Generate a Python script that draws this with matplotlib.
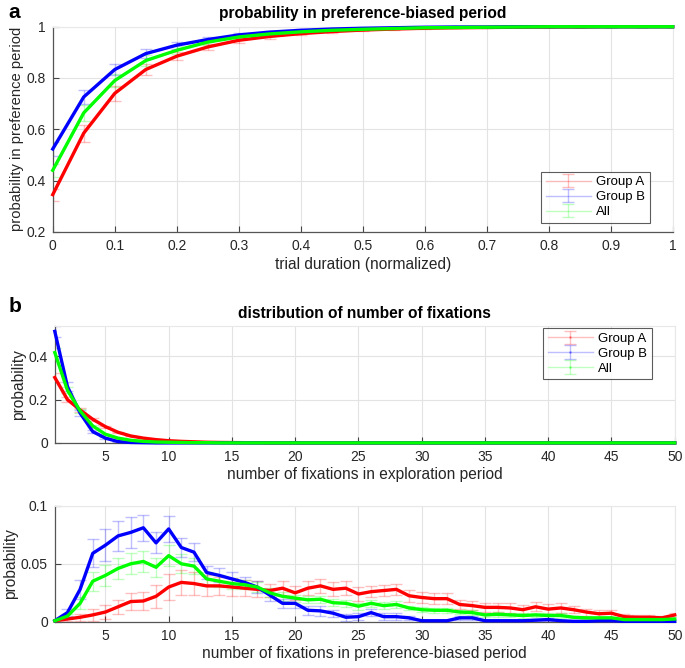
import numpy as np
import matplotlib
matplotlib.use("Agg")
from matplotlib import pyplot as plt

plt.rcParams['font.family'] = ['Liberation Sans', 'DejaVu Sans']
plt.rcParams['font.size'] = 9

# panel a: probability in preference-biased period
t = [0, 0.05, 0.1, 0.15, 0.2, 0.25, 0.3, 0.35, 0.4, 0.45, 0.5,
     0.55, 0.6, 0.65, 0.7, 0.75, 0.8, 0.85, 0.9, 0.95, 1.0]
a_grpA = [0.345, 0.585, 0.74, 0.833, 0.885, 0.921, 0.947, 0.962, 0.973, 0.981, 0.987,
          0.991, 0.994, 0.996, 0.997, 0.998, 0.999, 0.999, 1.0, 1.0, 1.0]
a_grpB = [0.523, 0.726, 0.833, 0.895, 0.928, 0.95, 0.968, 0.979, 0.986, 0.991, 0.994,
          0.996, 0.998, 0.999, 0.999, 1.0, 1.0, 1.0, 1.0, 1.0, 1.0]
a_all = [0.44, 0.664, 0.79, 0.868, 0.908, 0.94, 0.96, 0.972, 0.98, 0.986, 0.99,
         0.993, 0.996, 0.997, 0.998, 0.999, 1.0, 1.0, 1.0, 1.0, 1.0]
a_errA = [0.023, 0.033, 0.03, 0.022, 0.016, 0.012, 0.01, 0.008, 0.006, 0.005, 0.004,
          0.003, 0.003, 0.002, 0.002, 0.001, 0.001, 0.001, 0.0, 0.0, 0.0]
a_errB = [0.026, 0.028, 0.022, 0.018, 0.014, 0.011, 0.008, 0.006, 0.005, 0.004, 0.003,
          0.002, 0.002, 0.001, 0.001, 0.0, 0.0, 0.0, 0.0, 0.0, 0.0]
a_errAll = [0.025, 0.03, 0.025, 0.02, 0.015, 0.011, 0.009, 0.007, 0.005, 0.004, 0.003,
            0.002, 0.002, 0.001, 0.001, 0.001, 0.0, 0.0, 0.0, 0.0, 0.0]

# panel b top: number of fixations in exploration period (1..50)
n = list(range(1, 51))
e_grpA = [0.302, 0.20, 0.152, 0.109, 0.075, 0.049, 0.032, 0.022, 0.015, 0.010,
          0.007, 0.005, 0.003, 0.002, 0.0015, 0.001, 0.001] + [0.0] * 33
e_grpB = [0.515, 0.26, 0.138, 0.052, 0.022, 0.006, 0.002, 0.001] + [0.0] * 42
e_all = [0.417, 0.243, 0.148, 0.078, 0.040, 0.022, 0.012, 0.007, 0.004, 0.003,
         0.002, 0.001, 0.001] + [0.0] * 37
e_errA = [0.02, 0.012, 0.008, 0.006, 0.004, 0.003, 0.002, 0.001] + [0.0] * 42
e_errB = [0.025, 0.02, 0.012, 0.006, 0.003, 0.001] + [0.0] * 44
e_errAll = [0.02, 0.014, 0.009, 0.005, 0.003, 0.002, 0.001] + [0.0] * 43

# panel b bottom: number of fixations in preference-biased period (1..50)
p_grpA = [0.001, 0.0025, 0.004, 0.006, 0.0085, 0.013, 0.0175, 0.018, 0.022, 0.030,
          0.034, 0.033, 0.031, 0.031, 0.030, 0.029, 0.028, 0.027, 0.029, 0.025,
          0.029, 0.031, 0.028, 0.029, 0.024, 0.026, 0.027, 0.028, 0.0225, 0.021,
          0.020, 0.020, 0.015, 0.014, 0.0125, 0.0125, 0.012, 0.0105, 0.013, 0.011,
          0.012, 0.0105, 0.0085, 0.007, 0.0075, 0.0045, 0.004, 0.004, 0.0035, 0.006]
p_grpB = [0.001, 0.008, 0.028, 0.059, 0.066, 0.074, 0.077, 0.081, 0.068, 0.080,
          0.064, 0.060, 0.0425, 0.040, 0.037, 0.034, 0.030, 0.023, 0.016, 0.016,
          0.010, 0.0095, 0.0075, 0.004, 0.0045, 0.008, 0.0045, 0.0045, 0.0035, 0.001,
          0.001, 0.001, 0.0035, 0.0035, 0.001, 0.001, 0.001, 0.001, 0.0015, 0.002,
          0.001, 0.0005, 0.0005, 0.001, 0.001, 0.0005, 0.0005, 0.0005, 0.0005, 0.0005]
p_all = [0.001, 0.005, 0.016, 0.035, 0.040, 0.046, 0.050, 0.052, 0.047, 0.057,
         0.050, 0.048, 0.037, 0.035, 0.033, 0.032, 0.030, 0.025, 0.022, 0.0205,
         0.019, 0.0195, 0.0165, 0.016, 0.0135, 0.016, 0.014, 0.015, 0.012, 0.0105,
         0.010, 0.010, 0.0085, 0.008, 0.006, 0.0065, 0.006, 0.0055, 0.006, 0.0055,
         0.0055, 0.004, 0.0035, 0.0035, 0.0035, 0.002, 0.002, 0.002, 0.002, 0.0025]
p_errA = [0.001, 0.002, 0.003, 0.005, 0.006, 0.006, 0.007, 0.008, 0.010, 0.011,
          0.011, 0.010, 0.009, 0.008, 0.008, 0.007, 0.007, 0.006, 0.006, 0.006,
          0.006, 0.006, 0.006, 0.006, 0.006, 0.005, 0.005, 0.005, 0.005, 0.005,
          0.005, 0.005, 0.004, 0.004, 0.004, 0.004, 0.004, 0.004, 0.004, 0.004,
          0.004, 0.003, 0.003, 0.003, 0.003, 0.002, 0.002, 0.002, 0.002, 0.002]
p_errB = [0.001, 0.003, 0.008, 0.012, 0.014, 0.013, 0.013, 0.011, 0.009, 0.011,
          0.008, 0.008, 0.006, 0.006, 0.006, 0.005, 0.005, 0.005, 0.004, 0.004,
          0.004, 0.004, 0.003, 0.003, 0.003, 0.003, 0.003, 0.003, 0.002, 0.001,
          0.001, 0.001, 0.002, 0.002, 0.001, 0.001, 0.001, 0.001, 0.001, 0.001,
          0.001, 0.0005, 0.0005, 0.0005, 0.0005, 0.0005, 0.0005, 0.0005, 0.0005, 0.0005]
p_errAll = [0.001, 0.002, 0.005, 0.008, 0.009, 0.009, 0.009, 0.009, 0.008, 0.009,
            0.008, 0.007, 0.006, 0.005, 0.005, 0.004, 0.004, 0.004, 0.004, 0.003,
            0.003, 0.003, 0.003, 0.003, 0.003, 0.003, 0.003, 0.003, 0.002, 0.002,
            0.002, 0.002, 0.002, 0.002, 0.002, 0.002, 0.002, 0.002, 0.002, 0.002,
            0.002, 0.001, 0.001, 0.001, 0.001, 0.001, 0.001, 0.001, 0.001, 0.001]

labels = ['Group A', 'Group B', 'All']
colors = ['#ff0000', '#0000ff', '#00ff00']

LABEL_FS = 11.2
TITLE_FS = 11.2


def style_ax(ax):
    ax.grid(True, color='#e3e3e3', linewidth=0.8)
    ax.set_axisbelow(True)
    for s in ['left', 'bottom']:
        ax.spines[s].set_color('#555555')
        ax.spines[s].set_linewidth(0.9)
    for s in ['top', 'right']:
        ax.spines[s].set_color('#e8e8e8')
        ax.spines[s].set_linewidth(0.8)
    ax.tick_params(direction='in', length=4, width=0.8, color='#444444',
                   labelcolor='#262626', labelsize=10, pad=5)


def draw(ax, x, ys, errs, dot=False):
    handles = []
    for y, e, c, lab in zip(ys, errs, colors, labels):
        h = ax.errorbar(x, y, yerr=e, color=c, alpha=0.25, linewidth=1,
                        capsize=4, capthick=1, elinewidth=1,
                        marker='.' if dot else None, markersize=2, label=lab)
        handles.append(h)
    for y, c in zip(ys, colors):
        ax.plot(x, y, color=c, linewidth=2.4, clip_on=False, zorder=5)
    return handles


def add_legend(ax, h, loc, anchor):
    leg = ax.legend(handles=h, loc=loc, bbox_to_anchor=anchor,
                    borderaxespad=0, fancybox=False, edgecolor='#333333',
                    handlelength=3.4, labelspacing=0.2, fontsize=9.5,
                    borderpad=0.35, handletextpad=0.4)
    leg.get_frame().set_linewidth(0.8)
    return leg


fig = plt.figure(figsize=(6.85, 6.68), dpi=100)

# ---- panel a
ax1 = fig.add_axes([0.077, 0.653, 0.905, 0.307])
h = draw(ax1, t, [a_grpA, a_grpB, a_all], [a_errA, a_errB, a_errAll])
ax1.set_xlim(0, 1)
ax1.set_ylim(0.2, 1)
ax1.set_xticks(np.arange(0, 1.01, 0.1))
ax1.set_xticklabels(['0', '0.1', '0.2', '0.3', '0.4', '0.5', '0.6', '0.7', '0.8', '0.9', '1'])
ax1.set_yticks([0.2, 0.4, 0.6, 0.8, 1.0])
ax1.set_yticklabels(['0.2', '0.4', '0.6', '0.8', '1'])
style_ax(ax1)
ax1.set_title('probability in preference-biased period', fontweight='bold',
              fontsize=TITLE_FS, pad=6)
ax1.set_xlabel('trial duration (normalized)', fontsize=LABEL_FS, color='#262626', labelpad=3)
ax1.set_ylabel('probability in preference period', fontsize=10.6, color='#262626', labelpad=2)
add_legend(ax1, h, 'lower right', (0.963, 0.044))

# ---- panel b top
ax2 = fig.add_axes([0.080, 0.337, 0.905, 0.175])
h = draw(ax2, n, [e_grpA, e_grpB, e_all], [e_errA, e_errB, e_errAll], dot=True)
ax2.set_xlim(1, 50)
ax2.set_ylim(0, 0.54)
ax2.set_xticks(range(5, 51, 5))
ax2.set_yticks([0, 0.2, 0.4])
ax2.set_yticklabels(['0', '0.2', '0.4'])
style_ax(ax2)
ax2.set_title('distribution of number of fixations', fontweight='bold',
              fontsize=TITLE_FS, pad=6)
ax2.set_xlabel('number of fixations in exploration period', fontsize=LABEL_FS,
               color='#262626', labelpad=2)
ax2.set_ylabel('probability', fontsize=LABEL_FS, color='#262626', labelpad=2)
add_legend(ax2, h, 'upper right', (0.963, 0.983))

# ---- panel b bottom
ax3 = fig.add_axes([0.080, 0.069, 0.905, 0.174])
draw(ax3, n, [p_grpA, p_grpB, p_all], [p_errA, p_errB, p_errAll])
ax3.set_xlim(1, 50)
ax3.set_ylim(0, 0.1)
ax3.set_xticks(range(5, 51, 5))
ax3.set_yticks([0, 0.05, 0.1])
ax3.set_yticklabels(['0', '0.05', '0.1'])
style_ax(ax3)
ax3.set_xlabel('number of fixations in preference-biased period', fontsize=LABEL_FS,
               color='#262626', labelpad=2)
ax3.set_ylabel('probability', fontsize=LABEL_FS, color='#262626', labelpad=2)

fig.text(0.012, 0.982, 'a', fontsize=15, fontweight='bold', va='center')
fig.text(0.012, 0.541, 'b', fontsize=15, fontweight='bold', va='center')

fig.savefig('out.png', dpi=100)
